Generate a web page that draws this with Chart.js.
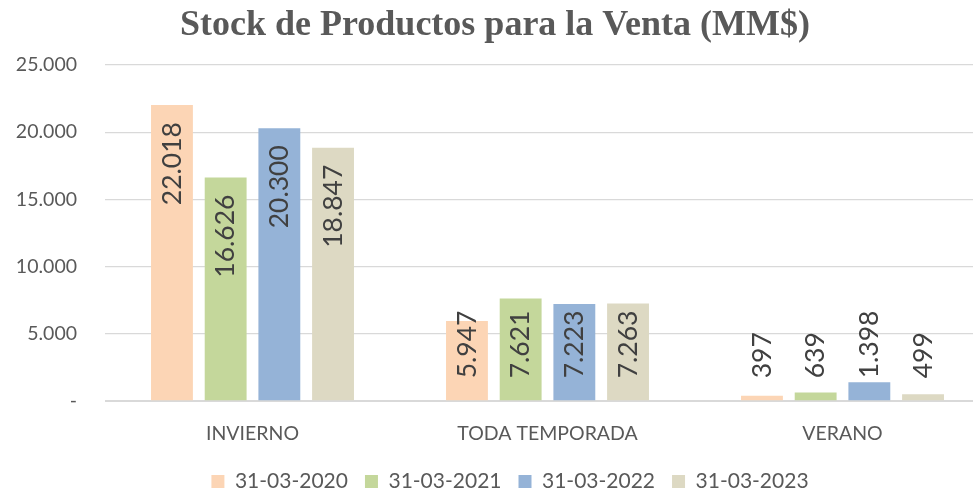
<!DOCTYPE html>
<html>
<head>
<meta charset="utf-8">
<script src="https://cdn.jsdelivr.net/npm/chart.js@4"></script>
<style>
  html, body { margin: 0; padding: 0; background: #fff; overflow: hidden; }
  #wrap { width: 1000px; height: 502px; }
</style>
</head>
<body>
<div id="wrap"><canvas id="stockChart" width="1000" height="502"></canvas></div>
<script>
const categories = ['INVIERNO', 'TODA TEMPORADA', 'VERANO'];
const seriesNames = ['31-03-2020', '31-03-2021', '31-03-2022', '31-03-2023'];
const stock2020 = [22018, 5947, 397];
const stock2021 = [16626, 7621, 639];
const stock2022 = [20300, 7223, 1398];
const stock2023 = [18847, 7263, 499];
const yTicks = [0, 5000, 10000, 15000, 20000, 25000];

const colors = ['#FCD5B5', '#C4D79B', '#95B3D7', '#DDD9C3'];
const FONT = 'Lato, sans-serif';

const fmt = v => String(v).replace(/\B(?=(\d{3})+(?!\d))/g, '.');

// labels giradas, pegadas al final de la barra (como Excel)
const barLabels = {
  id: 'barLabels',
  afterLayout(chart) {
    // la leyenda del original queda un poco a la derecha del titulo
    chart.legend.left += 15;
    chart.legend.right += 15;
  },
  afterDatasetsDraw(chart) {
    const ctx = chart.ctx;
    ctx.save();
    ctx.font = '26.5px ' + FONT;
    ctx.fillStyle = '#404040';
    ctx.textAlign = 'left';
    ctx.textBaseline = 'middle';
    chart.data.datasets.forEach((ds, i) => {
      chart.getDatasetMeta(i).data.forEach((bar, j) => {
        const txt = fmt(ds.data[j]);
        const len = ctx.measureText(txt).width;
        const bottom = Math.min(bar.y + 17 + len, bar.base - 22);
        ctx.save();
        ctx.translate(bar.x, bottom);
        ctx.rotate(-Math.PI / 2);
        ctx.fillText(txt, 0, 0);
        ctx.restore();
      });
    });
    ctx.restore();
  }
};

const allSeries = [stock2020, stock2021, stock2022, stock2023];

new Chart(document.getElementById('stockChart'), {
  type: 'bar',
  data: {
    labels: categories,
    datasets: allSeries.map((d, i) => ({
      label: seriesNames[i],
      data: d,
      backgroundColor: colors[i],
      categoryPercentage: 0.728,
      barPercentage: 0.78
    }))
  },
  options: {
    responsive: false,
    animation: false,
    layout: { padding: { left: 0, right: 10, top: 0, bottom: 0 } },
    plugins: {
      title: {
        display: true,
        text: 'Stock de Productos para la Venta (MM$)',
        color: '#595959',
        font: { family: '"Liberation Serif", serif', size: 36, weight: 'bold' },
        padding: { top: 4.4, bottom: 17.4 }
      },
      legend: {
        position: 'bottom',
        labels: {
          color: '#595959',
          font: { family: FONT, size: 21 },
          boxWidth: 13,
          boxHeight: 13,
          padding: 17
        }
      },
      tooltip: { enabled: false }
    },
    scales: {
      x: {
        grid: { display: false },
        border: { color: '#d9d9d9', width: 1 },
        ticks: { color: '#595959', font: { family: FONT, size: 19.5 }, padding: 13 },
        afterFit(s) { s.height = 53; }
      },
      y: {
        min: 0,
        max: 25000,
        afterBuildTicks(s) { s.ticks = yTicks.map(v => ({ value: v })); },
        grid: { color: '#d9d9d9', lineWidth: 1.3, drawTicks: false },
        border: { display: false },
        ticks: {
          color: '#595959',
          font: { family: FONT, size: 19.5 },
          padding: 28,
          callback: v => v === 0 ? '-' : fmt(v)
        },
        afterFit(s) { s.width = 105; }
      }
    }
  },
  plugins: [barLabels]
});
</script>
</body>
</html>
